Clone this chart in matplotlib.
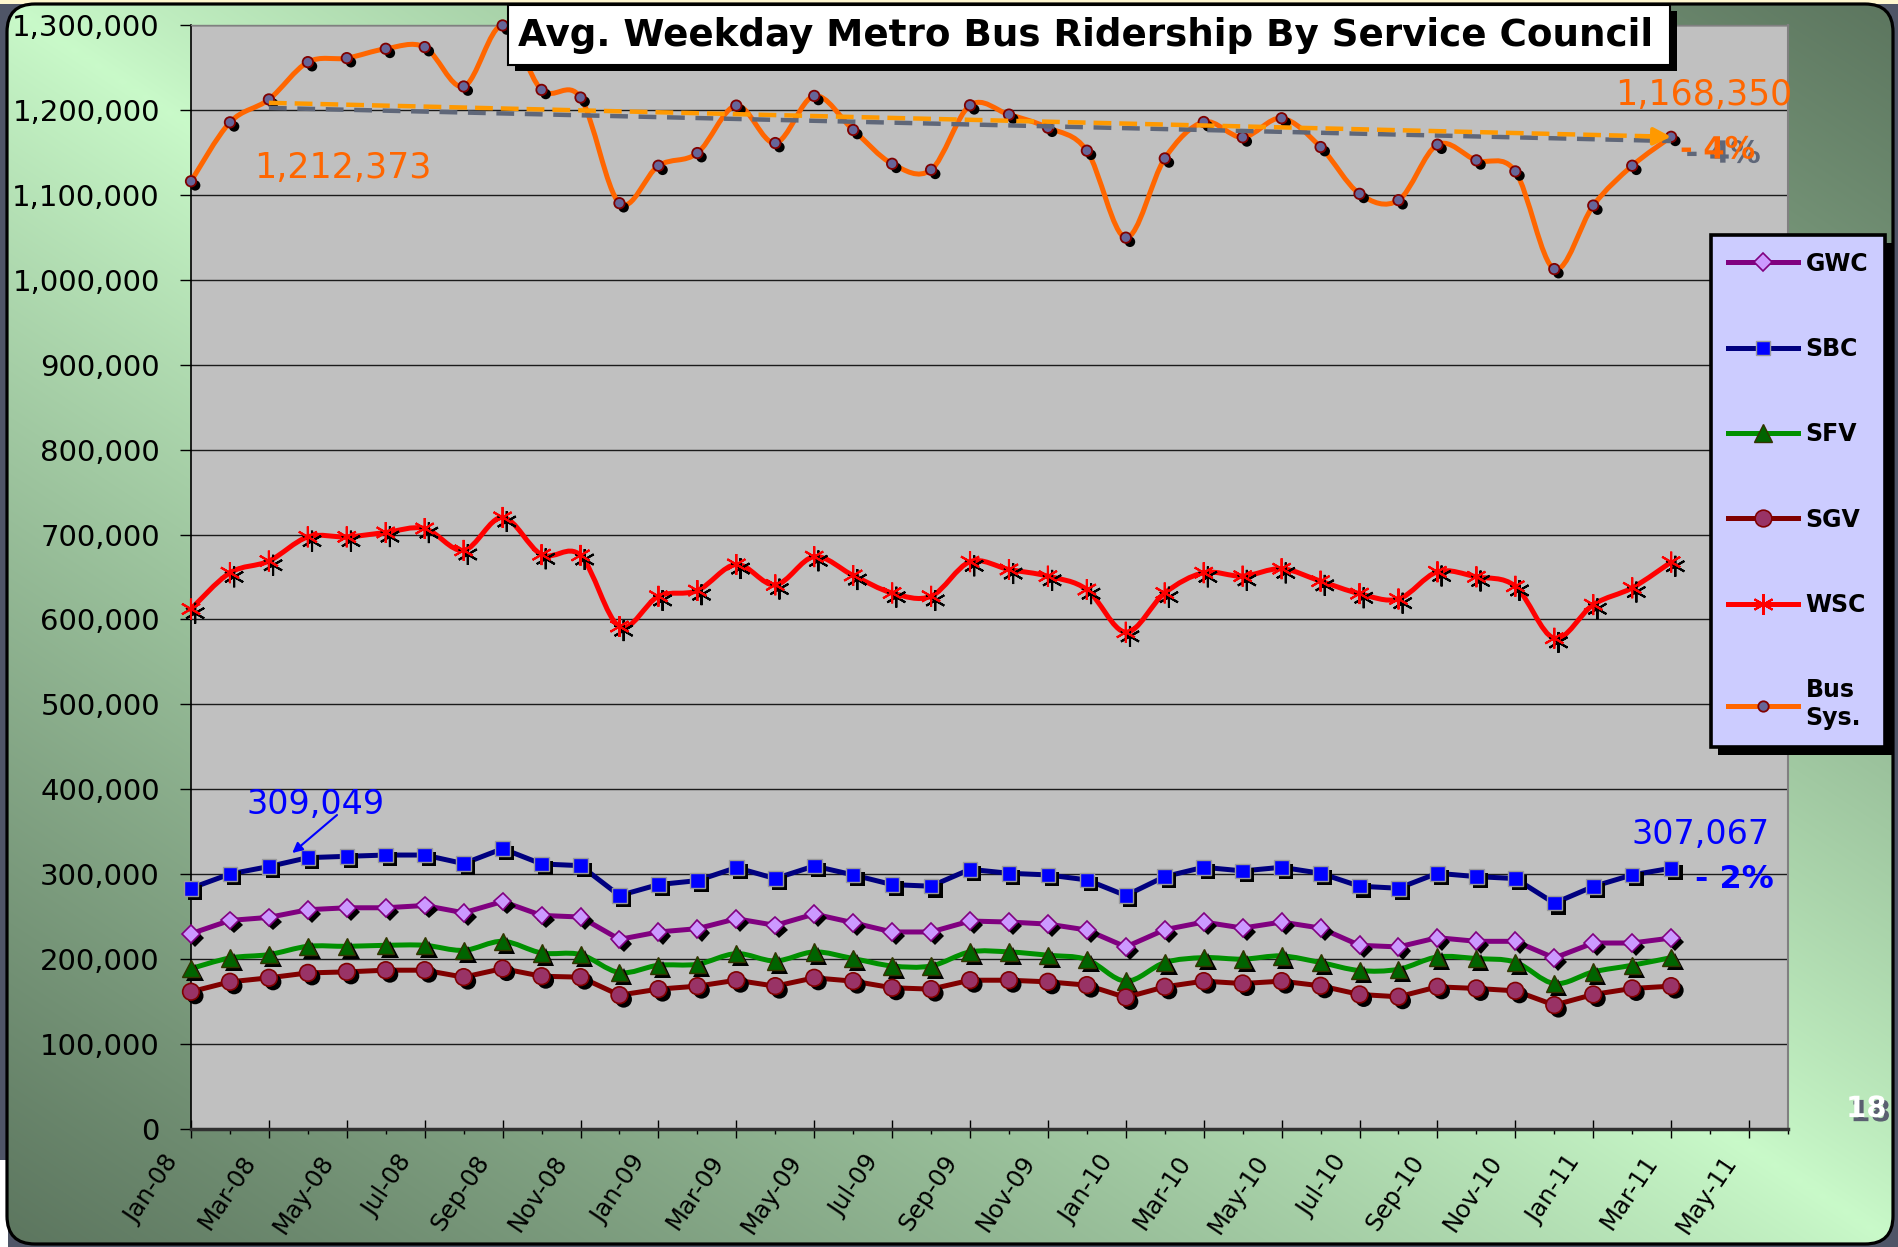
import numpy as np
import matplotlib
matplotlib.use('Agg')
import matplotlib.pyplot as plt
from matplotlib.path import Path
from matplotlib.patches import PathPatch, Rectangle, FancyBboxPatch
from matplotlib.lines import Line2D
import matplotlib.patheffects as pe
from matplotlib.ticker import FuncFormatter, MultipleLocator, FixedLocator
import matplotlib.transforms as mtransforms

# ---------------- data (Jan-08 .. Mar-11, monthly) ----------------
gwc = [230000, 245600, 249200, 258200, 260500, 260500, 263200, 254600, 267900, 251500, 249600, 223300,
       232000, 235900, 247600, 239800, 253100, 242900, 232000, 232000, 244900, 243700, 241300, 234300,
       214400, 234700, 243700, 236600, 243700, 236600, 216300, 214400, 225300, 221000, 221000, 201400,
       219000, 219000, 224900]
sbc = [283500, 300300, 309049, 319500, 321100, 322600, 322600, 312500, 330100, 312100, 310100, 274900,
       287800, 292500, 307800, 294900, 309700, 299200, 287800, 285900, 305800, 301100, 299200, 293300,
       274900, 297200, 308200, 303900, 308200, 301100, 285900, 283500, 301100, 297200, 294900, 265900,
       285500, 299200, 307067]
sfv = [188900, 201400, 205400, 215100, 215100, 216300, 216300, 210400, 221000, 207300, 205400, 184200,
       192800, 194000, 206500, 197900, 208500, 200700, 192000, 192000, 208500, 208500, 204600, 199500,
       174100, 196000, 201800, 200000, 203800, 196000, 186600, 188100, 202600, 200700, 196400, 171300,
       185000, 192800, 201800]
sgv = [161600, 173300, 178000, 183800, 185000, 187000, 187000, 178800, 188900, 179900, 178800, 157600,
       164700, 168200, 175200, 168200, 178000, 174100, 166300, 164700, 175200, 175200, 173300, 169400,
       154900, 167400, 174100, 171300, 174100, 168600, 158400, 155700, 167400, 165500, 162700, 145900,
       158400, 165500, 168200]
wsc = [612300, 655000, 668800, 697200, 697200, 702400, 707100, 681400, 720200, 676300, 675500, 591700,
       627300, 634000, 664800, 640700, 673900, 651800, 631200, 627300, 668000, 658900, 651000, 635200,
       585000, 631200, 655000, 651000, 659700, 645100, 630400, 624100, 656100, 650200, 639100, 577900,
       617400, 637200, 667600]
bus = [1116000, 1185400, 1212373, 1256300, 1261000, 1272000, 1274000, 1227600, 1299500, 1223600, 1214600, 1090200,
       1134300, 1149200, 1205100, 1161000, 1216500, 1176400, 1136600, 1129500, 1205500, 1194500, 1179100, 1152000,
       1049600, 1142900, 1185800, 1167700, 1190200, 1156300, 1101200, 1093700, 1159100, 1140600, 1127600, 1012600,
       1087400, 1134300, 1168350]
series_names = ['GWC', 'SBC', 'SFV', 'SGV', 'WSC', 'Bus\nSys.']
xtick_labels = ['Jan-08', 'Mar-08', 'May-08', 'Jul-08', 'Sep-08', 'Nov-08',
                'Jan-09', 'Mar-09', 'May-09', 'Jul-09', 'Sep-09', 'Nov-09',
                'Jan-10', 'Mar-10', 'May-10', 'Jul-10', 'Sep-10', 'Nov-10',
                'Jan-11', 'Mar-11', 'May-11']
title = 'Avg. Weekday Metro Bus Ridership By Service Council'

# ---------------- figure ----------------
W, H = 1898, 1247
DPI = 100
plt.rcParams['font.family'] = ['DejaVu Sans']
fig = plt.figure(figsize=(W / DPI, H / DPI), dpi=DPI)


def fx(x):
    return x / W


def fy(y):
    return 1 - y / H


# background (pixel coordinates, y downward)
bg = fig.add_axes([0, 0, 1, 1], zorder=-10)
bg.set_xlim(0, W)
bg.set_ylim(H, 0)
bg.axis('off')
bg.add_patch(Rectangle((0, 0), W, H, facecolor='#4f5567', edgecolor='none', zorder=0))
bg.add_patch(Rectangle((0, 0), W, 4, facecolor='#fff7cf', edgecolor='none', zorder=0.5))
bg.add_patch(Rectangle((0, 1160), 8, 90, facecolor='white', edgecolor='none', zorder=0.5))
uu, vv = np.meshgrid(np.linspace(0, 1, 240), np.linspace(0, 1, 160))
t = np.clip(np.abs(uu - vv), 0, 1) ** 0.9
light = np.array([0.79, 0.98, 0.79])
dark = np.array([0.36, 0.46, 0.37])
img = light[None, None, :] * (1 - t[..., None]) + dark[None, None, :] * t[..., None]
im = bg.imshow(img, extent=(0, W, H, 0), aspect='auto', interpolation='bilinear', zorder=1)
frame = FancyBboxPatch((7, 4), 1886, 1240, boxstyle='round,pad=0,rounding_size=28',
                       facecolor='none', edgecolor='black', linewidth=2.3, zorder=3)
bg.add_patch(frame)
im.set_clip_path(frame)

# main axes
ax = fig.add_axes([fx(191), fy(1129), (1788 - 191) / W, (1129 - 25) / H])
ax.set_facecolor('#c0c0c0')
ax.set_xlim(0, 41)
ax.set_ylim(0, 1300000)
ax.yaxis.set_major_locator(MultipleLocator(100000))
ax.yaxis.set_major_formatter(FuncFormatter(lambda v, p: f'{int(round(v)):,}'))
ax.yaxis.grid(True, color='#1a1a1a', linewidth=1.0)
ax.set_axisbelow(True)
ax.xaxis.set_major_locator(FixedLocator(np.arange(0, 2 * len(xtick_labels), 2)))
ax.xaxis.set_minor_locator(MultipleLocator(1))
ax.set_xticklabels(xtick_labels, rotation=56, ha='right', va='center', rotation_mode='anchor')
ax.tick_params(axis='x', which='major', direction='inout', length=13, width=1.0, pad=14,
               labelsize=17.5, colors='black')
ax.tick_params(axis='x', which='minor', direction='out', length=3.5, width=1.0)
ax.tick_params(axis='y', direction='out', length=8, width=1.0, pad=14.4, labelsize=21)
ax.spines['left'].set_color('black')
ax.spines['left'].set_linewidth(1.2)
ax.spines['bottom'].set_color('#303030')
ax.spines['bottom'].set_linewidth(2.5)
ax.spines['right'].set_color('#808080')
ax.spines['right'].set_linewidth(1.5)
ax.spines['top'].set_color('#808080')
ax.spines['top'].set_linewidth(1.0)


def smooth_path(x, y):
    x = np.asarray(x, float)
    y = np.asarray(y, float)
    n = len(x)
    verts = [(x[0], y[0])]
    codes = [Path.MOVETO]
    for i in range(n - 1):
        i0 = max(i - 1, 0)
        i3 = min(i + 2, n - 1)
        c1 = (x[i] + (x[i + 1] - x[i0]) / 6, y[i] + (y[i + 1] - y[i0]) / 6)
        c2 = (x[i + 1] - (x[i3] - x[i]) / 6, y[i + 1] - (y[i3] - y[i]) / 6)
        verts += [c1, c2, (x[i + 1], y[i + 1])]
        codes += [Path.CURVE4] * 3
    return Path(verts, codes)


styles = [
    dict(color='#800080', marker='D', ms=9, mfc='#cc99ff', mec='#800080', mew=1.2, smooth=False),
    dict(color='#000080', marker='s', ms=10.5, mfc='#0000ff', mec='#9a9a9a', mew=1.0, smooth=False),
    dict(color='#009000', marker='^', ms=12.5, mfc='#006400', mec='#333300', mew=1.0, smooth=True),
    dict(color='#800000', marker='o', ms=12, mfc='#993366', mec='#800000', mew=1.2, smooth=False),
    dict(color='#ff0000', marker=(6, 2, 0), ms=15, mfc='#ff0000', mec='#ff0000', mew=1.5, smooth=True),
    dict(color='#ff6600', marker='o', ms=7.5, mfc='#666699', mec='#800000', mew=1.3, smooth=True),
]
all_series = [gwc, sbc, sfv, sgv, wsc, bus]
LW = 3.6
handles = []
for k, (vals, st) in enumerate(zip(all_series, styles)):
    x = np.arange(len(vals))
    z = 3 + 2 * k
    if st['smooth']:
        ax.add_patch(PathPatch(smooth_path(x, vals), facecolor='none', edgecolor=st['color'],
                               linewidth=LW, capstyle='round', joinstyle='round', zorder=z))
    else:
        ax.plot(x, vals, color=st['color'], lw=LW, solid_joinstyle='round', zorder=z)
    if st['marker'] == (6, 2, 0):
        eff = [pe.SimpleLineShadow(offset=(3, -3), shadow_color='k', alpha=1.0), pe.Normal()]
    else:
        eff = [pe.SimplePatchShadow(offset=(3, -3), shadow_rgbFace='k', alpha=1.0), pe.Normal()]
    ax.plot(x, vals, linestyle='none', marker=st['marker'], ms=st['ms'], mfc=st['mfc'],
            mec=st['mec'], mew=st['mew'], zorder=z + 1, clip_on=False, path_effects=eff)
    handles.append(Line2D([], [], color=st['color'], lw=LW, marker=st['marker'], ms=st['ms'],
                          mfc=st['mfc'], mec=st['mec'], mew=st['mew']))

# trend arrow between Mar-08 and Mar-11
xb = np.arange(len(bus))
ax.plot([xb[2], xb[-1]], [bus[2] - 10000, bus[-1] - 5000], color='#5f6779', lw=3.2,
        dashes=(4.0, 2.4), zorder=14)
ax.plot([xb[2], xb[-1] - 0.5], [bus[2] - 4000, bus[-1] + (bus[2] - 4000 - bus[-1]) * 0.5 / 36],
        color='#ff9900', lw=3.2, dashes=(4.0, 1.8), zorder=15)
ax.annotate('', xy=(xb[-1], bus[-1]), xytext=(xb[-1] - 0.8, bus[-1] + (bus[2] - 4000 - bus[-1]) * 0.8 / 36),
            arrowprops=dict(arrowstyle='-|>', color='#ff9900', lw=3, mutation_scale=26,
                            shrinkA=0, shrinkB=0), zorder=15)

# legend
leg = ax.legend(handles, series_names, loc='upper left', bbox_to_anchor=(fx(1711), fy(235)),
                bbox_transform=fig.transFigure,
                prop=dict(family='DejaVu Sans', weight='bold', size=17),
                frameon=True, fancybox=False, facecolor='#ccccff', edgecolor='black', framealpha=1,
                borderpad=0.7, labelspacing=2.6, handlelength=3.0, handletextpad=0.3,
                borderaxespad=0)
leg.get_frame().set_linewidth(2.6)
leg.set_zorder(40)

# overlay for title and annotations (pixel coordinates, y downward)
ov = fig.add_axes([0, 0, 1, 1], zorder=30)
ov.set_xlim(0, W)
ov.set_ylim(H, 0)
ov.axis('off')
ov.add_patch(Rectangle((515, 11), 1162, 60, facecolor='black', edgecolor='none'))
ov.add_patch(Rectangle((508, 5), 1162, 60, facecolor='white', edgecolor='black', linewidth=1.5))
ttl = ov.text(1086, 46, title, ha='center', va='baseline', fontsize=24, fontweight='bold',
              color='black')

orange = '#ff6600'
blue = '#0000ff'
ov.text(343, 168, '1,212,373', ha='center', va='center', fontsize=25, color=orange)
ov.text(1792, 95, '1,168,350', ha='right', va='center', fontsize=25, color=orange)
ov.text(1680, 150, '- 4%', ha='left', va='center', fontsize=22, fontweight='bold', color=orange,
        path_effects=[pe.SimplePatchShadow(offset=(4, -3), shadow_rgbFace='#5f6779', alpha=1.0),
                      pe.Normal()])
ov.text(316, 804, '309,049', ha='center', va='center', fontsize=24, color=blue)
ov.text(1701, 834, '307,067', ha='center', va='center', fontsize=24, color=blue)
ov.text(1734, 880, '- 2%', ha='center', va='center', fontsize=23, fontweight='bold', color=blue)
ax.annotate('', xy=(2.6, 325000), xycoords='data', xytext=(337, H - 815), textcoords='figure pixels',
            arrowprops=dict(arrowstyle='-|>', color=blue, lw=1.5, mutation_scale=15,
                            shrinkA=0, shrinkB=0), zorder=30)
pg = ov.text(1846, 1117, '18', ha='left', va='baseline', fontsize=21, fontweight='bold', color='white',
             path_effects=[pe.SimplePatchShadow(offset=(3, -3), shadow_rgbFace='#5a5f70', alpha=1.0),
                           pe.Normal()])

# fit title width, shift x tick labels, add legend shadow
fig.canvas.draw()
r = fig.canvas.get_renderer()
bb = ttl.get_window_extent(r)
ttl.set_fontsize(24 * 1135 / bb.width)
shift = mtransforms.ScaledTranslation(-18 / DPI, 0, fig.dpi_scale_trans)
for lbl in ax.get_xticklabels():
    lbl.set_transform(lbl.get_transform() + shift)
fig.canvas.draw()
lb = leg.get_window_extent(r)
ax.add_patch(Rectangle((lb.x0 + 7, lb.y0 - 8), lb.width, lb.height, facecolor='black',
                       edgecolor='none', transform=mtransforms.IdentityTransform(),
                       clip_on=False, zorder=39))

fig.savefig('out.png', dpi=DPI)
